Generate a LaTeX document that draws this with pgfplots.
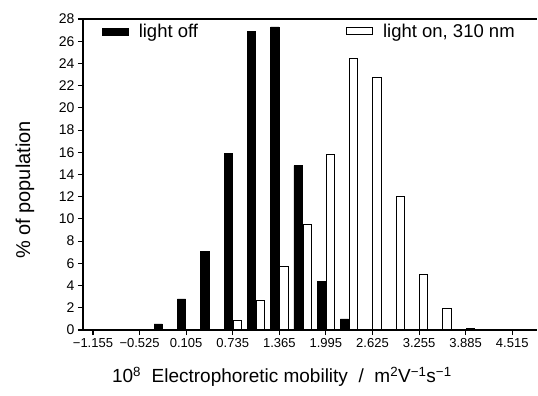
\documentclass[border=0pt]{standalone}
\usepackage{pgfplots}
\pgfplotsset{compat=1.18}
\usepackage{fontspec}
\setmainfont{Liberation Sans}
\begin{document}
\begin{tikzpicture}
\path[use as bounding box] (-83pt,-66pt) rectangle (455pt,330pt);
\begin{axis}[
  at={(0pt,0pt)}, anchor=south west,
  scale only axis, width=454pt, height=311pt,
  xmin=-1.29, xmax=4.85, ymin=0, ymax=28,
  axis x line*=bottom, axis y line*=left,
  axis line style={-, line width=1.3pt},
  tick align=outside, major tick length=5pt,
  tick style={line width=1.1pt, black},
  xtick={-1.155,-0.525,0.105,0.735,1.365,1.995,2.625,3.255,3.885,4.515},
  xticklabels={−1.155,−0.525,0.105,0.735,1.365,1.995,2.625,3.255,3.885,4.515},
  ytick={0,2,...,28},
  /pgf/number format/assume math mode=true,
  xticklabel style={font=\fontsize{13}{14}\selectfont},
  yticklabel style={font=\fontsize{14}{15}\selectfont},
  ylabel={\% of population},
  ylabel style={at={(axis description cs:-0.128,0.45)}, anchor=center, font=\fontsize{20}{22}\selectfont},
  xlabel={10\textsuperscript{8}\ \ Electrophoretic mobility\ \ /\ \ m\textsuperscript{2}V\textsuperscript{−1}s\textsuperscript{−1}},
  xlabel style={at={(axis description cs:0.438,-0.17)}, anchor=base, font=\fontsize{19}{21}\selectfont},
  ybar=1pt, bar width=8.2pt,
  legend columns=2,
  legend cell align=left,
  legend image code/.code={\draw[#1] (0pt,-3.5pt) rectangle (26pt,3.5pt);},
  legend style={at={(axis description cs:0.042,0.96)}, anchor=west, draw=none, fill=none, inner sep=0pt,
    nodes={inner sep=0pt}, font=\fontsize{18.5}{20}\selectfont,
    /tikz/every odd column/.append style={column sep=10pt},
    /tikz/every even column/.append style={column sep=148pt}},
]
\addplot[fill=black, draw=black, line width=0.5pt] coordinates {
  (-0.21,0.55) (0.105,2.8) (0.42,7.1) (0.735,15.9) (1.05,26.9) (1.365,27.3)
  (1.68,14.8) (1.995,4.4) (2.31,1.0)};
\addlegendentry{light off}
\addplot[fill=white, draw=black, line width=1pt] coordinates {
  (0.735,0.9) (1.05,2.7) (1.365,5.7) (1.68,9.5) (1.995,15.8) (2.31,24.4)
  (2.625,22.7) (2.94,12.0) (3.255,5.0) (3.57,1.9) (3.885,0.1)};
\addlegendentry{light on, 310 nm}
\draw[line width=1.3pt] (rel axis cs:0,1) -- (rel axis cs:1,1);
\end{axis}
\end{tikzpicture}
\end{document}
